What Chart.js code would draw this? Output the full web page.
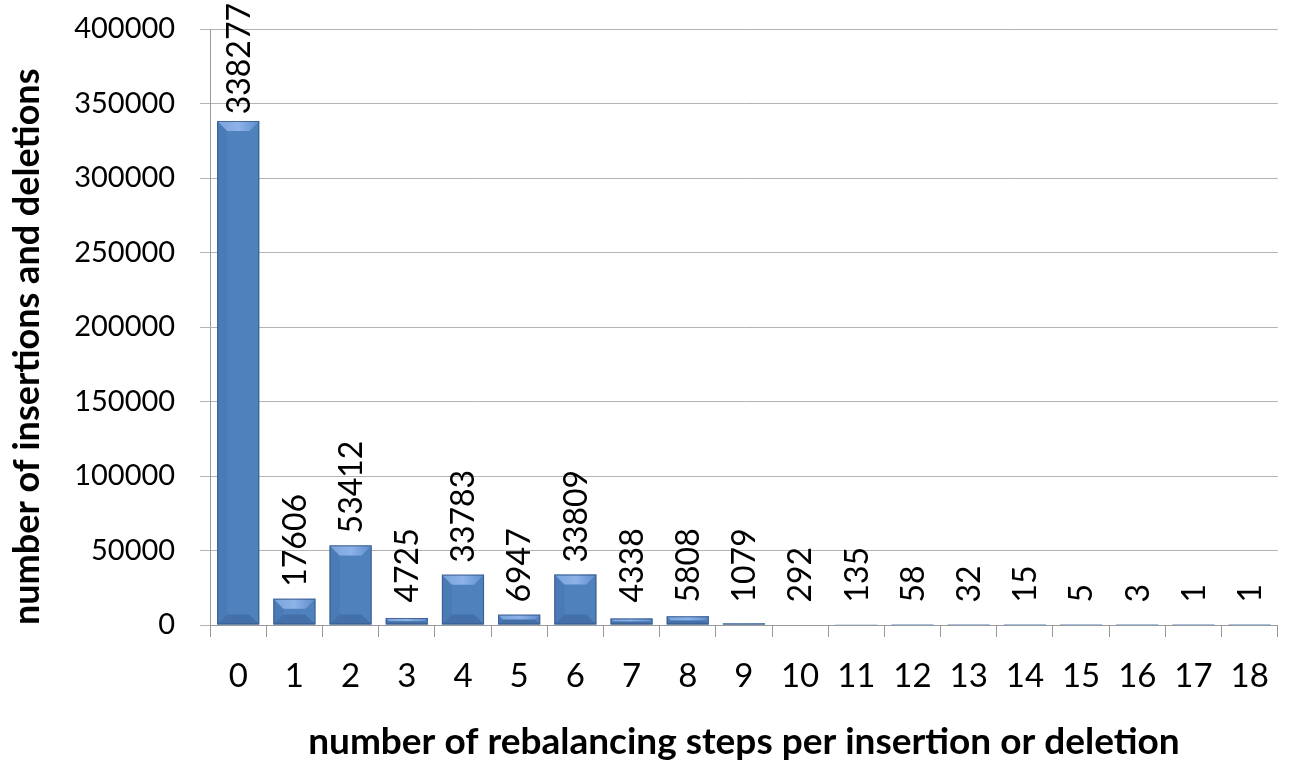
<!DOCTYPE html>
<html><head><meta charset="utf-8">
<script src="https://cdn.jsdelivr.net/npm/chart.js@4.4.1/dist/chart.umd.min.js"></script>
<style>html,body{margin:0;padding:0;background:#fff}#wrap{width:1289px;height:764px}</style>
</head><body><div id="wrap"><canvas id="c" width="1289" height="764"></canvas></div>
<script>
const categories = ["0","1","2","3","4","5","6","7","8","9","10","11","12","13","14","15","16","17","18"];
const counts = [338277,17606,53412,4725,33783,6947,33809,4338,5808,1079,292,135,58,32,15,5,3,1,1];
const yTicks = [0,50000,100000,150000,200000,250000,300000,350000,400000];
const FONT = "Lato, 'Noto Sans', sans-serif";

function barFill(ctx){
  const el = ctx.element;
  const chart = ctx.chart;
  if(!el || !chart.chartArea) return '#4f81bd';
  const {x,width} = el.getProps(['x','width'], true);
  if(!width) return '#4f81bd';
  const l = x - width/2, r = x + width/2;
  const g = chart.ctx.createLinearGradient(l,0,r,0);
  g.addColorStop(0,'#4572ad');
  g.addColorStop(0.2,'#4f82c2');
  g.addColorStop(0.55,'#5586c6');
  g.addColorStop(0.78,'#4a7bb9');
  g.addColorStop(0.9,'#2f5486');
  g.addColorStop(1,'#1a2f4d');
  return g;
}

const bevel = {
  id:'bevel',
  afterDatasetsDraw(chart){
    const c = chart.ctx;
    const meta = chart.getDatasetMeta(0);
    c.save();
    meta.data.forEach((el,i)=>{
      const {x,y,base,width} = el.getProps(['x','y','base','width'], true);
      const h = base - y;
      if(h < 1) return;
      const l = x-width/2, r = x+width/2;
      const b = Math.min(10, h/2, width/3);
      c.beginPath();
      c.moveTo(l,y); c.lineTo(r,y); c.lineTo(r-b,y+b); c.lineTo(l+b,y+b); c.closePath();
      const gt = c.createLinearGradient(l,0,r,0);
      gt.addColorStop(0,'#7aa3dc'); gt.addColorStop(0.5,'#8db3e8'); gt.addColorStop(1,'#5f8ccc');
      c.fillStyle = gt; c.fill();
      c.beginPath();
      c.moveTo(l,base); c.lineTo(r,base); c.lineTo(r-b,base-b); c.lineTo(l+b,base-b); c.closePath();
      c.fillStyle = 'rgba(35,65,110,0.25)'; c.fill();
      c.beginPath();
      c.moveTo(l,y); c.lineTo(l,base); c.lineTo(l+b,base-b); c.lineTo(l+b,y+b); c.closePath();
      c.fillStyle = 'rgba(40,80,140,0.12)'; c.fill();
      c.strokeStyle = 'rgba(45,75,120,0.7)'; c.lineWidth = 1;
      c.strokeRect(l+0.5,y+0.5,width-1,h-1);
    });
    c.restore();
  },
  afterDraw(chart){
    const c = chart.ctx;
    const meta = chart.getDatasetMeta(0);
    c.save();
    c.font = "32px " + FONT;
    c.fillStyle = '#000';
    c.textAlign = 'left';
    c.textBaseline = 'middle';
    meta.data.forEach((el,i)=>{
      const {x,y,base} = el.getProps(['x','y','base'], true);
      const txt = String(counts[i]);
      const w = c.measureText(txt).width;
      let bottom = Math.min(y - 12, base - 22);
      bottom = Math.max(bottom, w + 3);
      c.save();
      c.translate(x+1, bottom);
      c.rotate(-Math.PI/2);
      c.fillText(txt, 0, 0);
      c.restore();
    });
    c.restore();
  }
};

new Chart(document.getElementById('c'), {
  type:'bar',
  data:{labels:categories, datasets:[{data:counts, backgroundColor:barFill, borderWidth:0, barPercentage:0.75, categoryPercentage:1}]},
  options:{
    responsive:false, animation:false,
    layout:{padding:{top:0,right:8,left:6,bottom:0}},
    plugins:{legend:{display:false}, tooltip:{enabled:false}},
    scales:{
      x:{
        grid:{display:true, drawOnChartArea:false, drawTicks:true, tickLength:12, color:'#999', offset:true},
        border:{color:'#999'},
        ticks:{font:{family:FONT,size:33}, color:'#000', padding:20},
        title:{display:true, text:'number of rebalancing steps per insertion or deletion', font:{family:FONT,size:37,weight:'bold'}, color:'#000', padding:{top:3,bottom:0}}
      },
      y:{
        min:0, max:400000,
        afterBuildTicks(axis){ axis.ticks = yTicks.map(v=>({value:v})); },
        afterFit(axis){ axis.paddingTop = 29; axis.paddingBottom = 10; },
        grid:{color:'#b3b3b3', tickLength:10, drawTicks:true},
        border:{color:'#999'},
        ticks:{font:{family:FONT,size:29}, color:'#000', padding:25, callback:(v)=>String(v)},
        title:{display:true, align:'start', text:'number of insertions and deletions', font:{family:FONT,size:36,weight:'bold'}, color:'#000', padding:{top:0,bottom:0}}
      }
    }
  },
  plugins:[bevel]
});
</script></body></html>
